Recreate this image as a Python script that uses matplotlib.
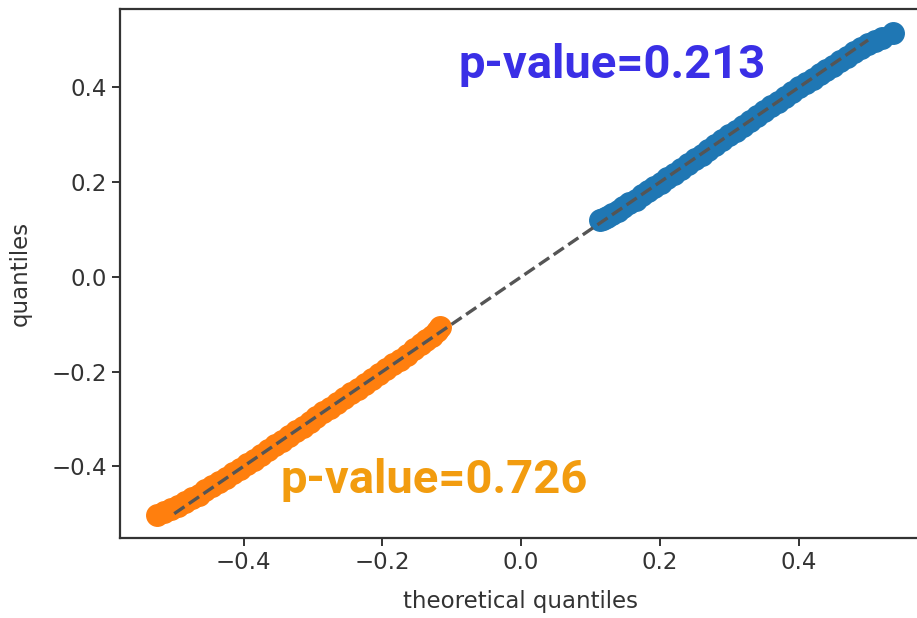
import matplotlib
matplotlib.use("Agg")
import matplotlib.pyplot as plt

# ---------------------------
# Data
# ---------------------------

# upper group (blue)
blue_theo = [0.114, 0.118, 0.124, 0.131, 0.139, 0.147, 0.156, 0.165, 0.174, 0.183,
             0.192, 0.201, 0.210, 0.220, 0.230, 0.240, 0.250, 0.260, 0.270, 0.280,
             0.290, 0.300, 0.310, 0.320, 0.330, 0.340, 0.350, 0.360, 0.370, 0.380,
             0.390, 0.400, 0.410, 0.420, 0.430, 0.440, 0.450, 0.460, 0.470, 0.480,
             0.490, 0.500, 0.510, 0.520, 0.536]
blue_samp = [0.119, 0.122, 0.127, 0.133, 0.140, 0.147, 0.155, 0.163, 0.172, 0.181,
             0.190, 0.199, 0.208, 0.218, 0.228, 0.238, 0.248, 0.258, 0.268, 0.278,
             0.289, 0.299, 0.309, 0.319, 0.330, 0.340, 0.350, 0.360, 0.370, 0.380,
             0.390, 0.400, 0.409, 0.418, 0.428, 0.437, 0.446, 0.455, 0.464, 0.474,
             0.483, 0.492, 0.499, 0.505, 0.514]

# lower group (orange)
orange_theo = [-0.525, -0.515, -0.505, -0.495, -0.485, -0.475, -0.465, -0.455, -0.445, -0.435,
               -0.425, -0.415, -0.405, -0.395, -0.385, -0.375, -0.365, -0.355, -0.345, -0.335,
               -0.325, -0.315, -0.305, -0.295, -0.285, -0.275, -0.265, -0.255, -0.245, -0.235,
               -0.225, -0.215, -0.205, -0.195, -0.185, -0.175, -0.165, -0.155, -0.145, -0.137,
               -0.129, -0.122, -0.117]
orange_samp = [-0.503, -0.497, -0.490, -0.483, -0.476, -0.468, -0.460, -0.451, -0.442, -0.433,
               -0.424, -0.415, -0.405, -0.396, -0.386, -0.376, -0.366, -0.356, -0.346, -0.336,
               -0.326, -0.316, -0.306, -0.296, -0.286, -0.276, -0.266, -0.256, -0.246, -0.236,
               -0.226, -0.216, -0.206, -0.195, -0.185, -0.175, -0.164, -0.153, -0.142, -0.133,
               -0.124, -0.114, -0.106]

# reference line
ref_x = [-0.5, 0.5]
ref_y = [-0.5, 0.5]

pval_labels = ["p-value=0.213", "p-value=0.726"]

# ---------------------------
# Plot
# ---------------------------

fig = plt.figure(figsize=(9.17, 6.18), dpi=100)
# right spine falls just outside the picture, as in the cropped original
ax = fig.add_axes([0.131, 0.129, 0.8724, 0.856])

ax.scatter(blue_theo, blue_samp, s=240, color="#1f77b4", zorder=2)
ax.scatter(orange_theo, orange_samp, s=240, color="#ff7f0e", zorder=2)
ax.plot(ref_x, ref_y, linestyle="--", color="#555555", lw=2.4, zorder=3)

ax.set_xlim(-0.578, 0.575)
ax.set_ylim(-0.552, 0.565)
ax.set_xticks([-0.4, -0.2, 0.0, 0.2, 0.4])
ax.set_yticks([-0.4, -0.2, 0.0, 0.2, 0.4])

ax.tick_params(labelsize=16.5, length=6, width=1.4, colors="#333333")
for sp in ax.spines.values():
    sp.set_linewidth(1.6)
    sp.set_color("#333333")

ax.set_xlabel("theoretical quantiles", fontsize=16.5, color="#333333", labelpad=11)
ax.set_ylabel("quantiles", fontsize=16.5, color="#333333", labelpad=14)

# p-value annotations
ax.text(-0.091, 0.419, pval_labels[0], color="#3a2fe6", fontsize=34,
        fontweight="bold", family="Roboto")
ax.text(-0.3475, -0.457, pval_labels[1], color="#f29c0f", fontsize=34,
        fontweight="bold", family="Roboto")

plt.savefig("out.png", dpi=100)
